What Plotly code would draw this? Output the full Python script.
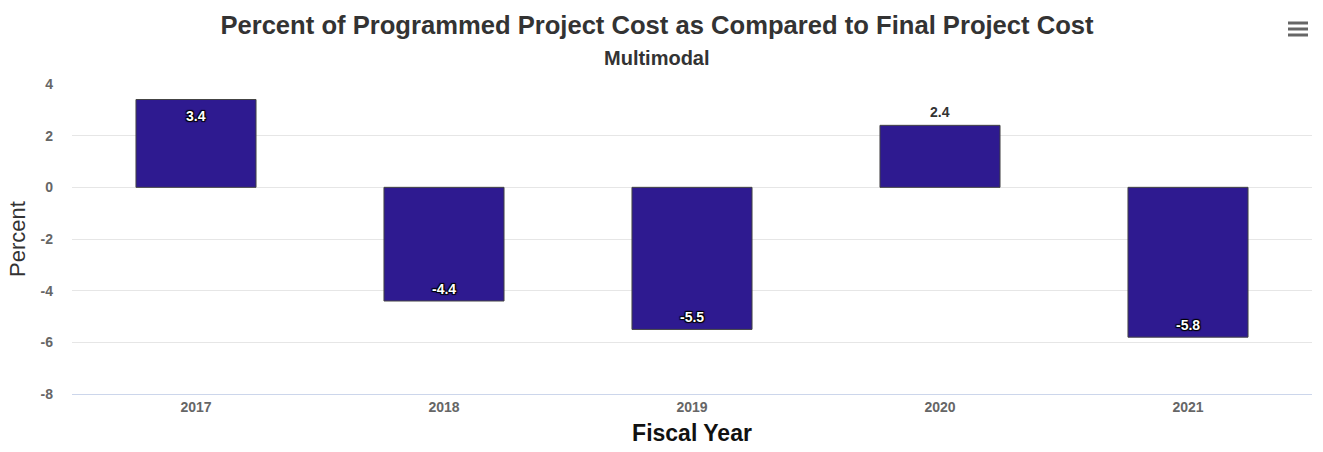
import plotly.graph_objects as go

# Fiscal years and percent difference (programmed vs. final project cost)
years = ["2017", "2018", "2019", "2020", "2021"]
percent = [3.4, -4.4, -5.5, 2.4, -5.8]
label_inside = [True, True, True, False, True]
y_ticks = [4, 2, 0, -2, -4, -6, -8]
y_tick_text = ["4", "2", "0", "-2", "-4", "-6", "-8"]

FONT = "Liberation Sans, Arial, sans-serif"
DARK_OUTLINE = "1px 1px 1px #000, -1px -1px 1px #000, 1px -1px 1px #000, -1px 1px 1px #000"
LIGHT_OUTLINE = "1px 1px 1px #fff, -1px -1px 1px #fff, 1px -1px 1px #fff, -1px 1px 1px #fff"

fig = go.Figure(
    go.Bar(
        x=years,
        y=percent,
        marker=dict(color="#2e1a90", line=dict(color="#444444", width=1)),
        cliponaxis=False,
        hoverinfo="x+y",
    )
)

# Data labels placed at the bar ends (category index used as x position)
labels = []
for i, (v, inside) in enumerate(zip(percent, label_inside)):
    if inside:
        shift = -16 if v > 0 else 12
        color, shadow = "#ffffff", DARK_OUTLINE
    else:
        shift = 13 if v > 0 else -13
        color, shadow = "#333333", LIGHT_OUTLINE
    labels.append(dict(
        x=i, y=v, xref="x", yref="y", text=f"<b>{v:.1f}</b>",
        showarrow=False, yanchor="middle", xanchor="center", yshift=shift,
        font=dict(family=FONT, size=14, color=color, shadow=shadow),
    ))

labels.append(dict(
    text="<b>Multimodal</b>", xref="paper", yref="paper",
    x=(657 - 72) / 1240, y=(394 - 58) / 310, xanchor="center", yanchor="middle",
    showarrow=False, font=dict(size=20, color="#333333", family=FONT),
))

fig.update_layout(
    width=1323,
    height=452,
    margin=dict(l=72, r=11, t=84, b=58),
    paper_bgcolor="white",
    plot_bgcolor="white",
    bargap=0.516,
    showlegend=False,
    font=dict(family=FONT, color="#333333"),
    title=dict(
        text="<b>Percent of Programmed Project Cost as Compared to Final Project Cost</b>",
        x=657 / 1323, xref="container", xanchor="center",
        y=1 - 25 / 452, yref="container", yanchor="middle",
        font=dict(size=25.6, color="#333333", family=FONT),
    ),
    annotations=labels,
    xaxis=dict(
        type="category",
        range=[-0.5, len(years) - 0.5],
        showgrid=False,
        showline=True, linecolor="#ccd6eb", linewidth=1,
        ticks="", tickfont=dict(size=14, color="#666666", family=FONT, weight="bold"),
        title=dict(text="<b>Fiscal Year</b>", font=dict(size=23, color="#111111", family=FONT),
                   standoff=11),
    ),
    yaxis=dict(
        range=[-8, 4],
        tickvals=y_ticks,
        ticktext=y_tick_text,
        showgrid=True, gridcolor="#e6e6e6", gridwidth=1,
        zeroline=False, showline=False, ticks="",
        tickfont=dict(size=14, color="#666666", family=FONT, weight="bold"),
        ticklabelstandoff=18,
        title=dict(text="Percent", font=dict(size=22, color="#333333", family=FONT),
                   standoff=8),
    ),
)

# Export menu icon (three horizontal bars) in the top-right corner
for py in (23, 29, 35):
    yp = (394 - py) / 310
    fig.add_shape(type="line", xref="paper", yref="paper",
                  x0=(1288 - 72) / 1240, x1=(1308 - 72) / 1240, y0=yp, y1=yp,
                  line=dict(color="#666666", width=3))

fig.write_html("out.html")
